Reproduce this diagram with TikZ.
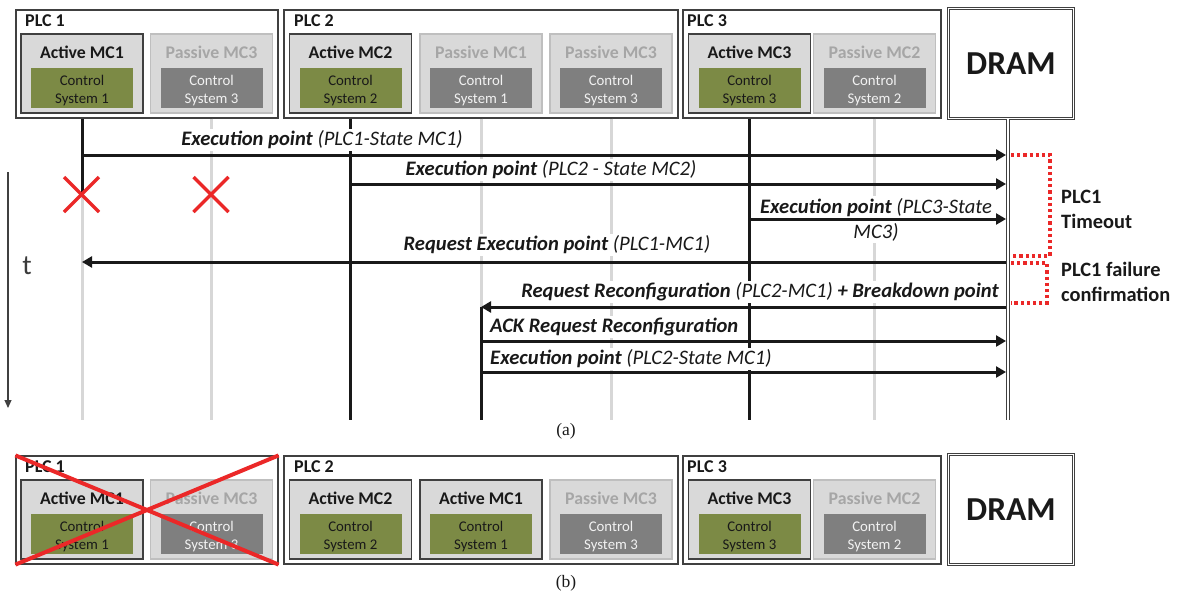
\documentclass[tikz,border=0pt]{standalone}
\usepackage{fontspec}
\setmainfont{Carlito}
\newfontfamily\capfont{Liberation Serif}
\usetikzlibrary{arrows.meta}
\definecolor{boxgrey}{RGB}{217,217,217}
\definecolor{pborder}{RGB}{191,191,191}
\definecolor{ptext}{RGB}{166,166,166}
\definecolor{olivebox}{RGB}{124,138,69}
\definecolor{darkgrey}{RGB}{127,127,127}
\definecolor{ink}{RGB}{25,25,25}
\definecolor{frame}{RGB}{64,64,64}
\definecolor{xred}{RGB}{235,40,40}
\definecolor{lifegrey}{RGB}{215,215,215}
\newcommand{\myfs}[2]{\fontsize{#1}{#2}\selectfont}
\newcommand{\mcmod}[6]{%
  \node[#4box] (#1) at (#2,#3+39.5) {};
  \node[#4title] (#1t) at (#2,#3+18.5) {#5};
  \node[#4inner] (#1i) at (#2,#3+54) {};
  \node[#4intext] (#1s) at (#2,#3+57) {Control\\System #6};
}
\tikzset{
  plcbox/.style={draw=frame, line width=1.2pt, fill=white, inner sep=0pt, minimum height=108pt},
  plclabel/.style={font=\bfseries\myfs{18}{20}, text=ink, anchor=west, inner sep=0pt},
  activebox/.style={draw=frame, line width=1.3pt, fill=boxgrey, minimum width=122pt, minimum height=79pt, inner sep=0pt},
  passivebox/.style={draw=pborder, line width=1.3pt, fill=boxgrey, minimum width=122pt, minimum height=79pt, inner sep=0pt},
  activetitle/.style={font=\bfseries\myfs{17.8}{20}, text=ink, inner sep=0pt},
  passivetitle/.style={font=\bfseries\myfs{17.8}{20}, text=ptext, inner sep=0pt},
  activeinner/.style={fill=olivebox, minimum width=102pt, minimum height=40pt, inner sep=0pt},
  passiveinner/.style={fill=darkgrey, minimum width=102pt, minimum height=40pt, inner sep=0pt},
  activeintext/.style={text=ink, inner sep=0pt, align=center, font=\myfs{14.8}{18}},
  passiveintext/.style={text=white!95!black, inner sep=0pt, align=center, font=\myfs{14.8}{18}},
  dramstyle/.style={draw=frame, double=white, double distance=1.6pt, line width=0.9pt, minimum width=125pt, minimum height=110pt, inner sep=0pt, font=\bfseries\myfs{33.5}{38}, text=ink},
  activeline/.style={draw=ink, line width=3pt},
  passiveline/.style={draw=lifegrey, line width=3pt},
  dramline/.style={draw=frame, double=white, double distance=2pt, line width=1pt},
  msg/.style={draw=ink, line width=3pt, -{Triangle[length=10pt,width=11pt]}},
  msglabel/.style={fill=white, inner sep=2pt, text=ink, font=\myfs{20.6}{25}},
  redx/.style={draw=xred, line width=3.5pt},
  bigx/.style={draw=xred, line width=4pt},
  reddots/.style={draw=xred, line width=3.2pt, dash pattern=on 3.2pt off 3pt},
  sidelabel/.style={font=\bfseries\myfs{20.4}{24.5}, text=ink, anchor=west, align=left, inner sep=0pt},
  timeaxis/.style={draw=frame, line width=1.2pt, -{Triangle[length=8pt,width=7pt]}},
  caption/.style={font=\capfont\myfs{17.5}{19}, text=ink, inner sep=0pt},
}
\begin{document}
\begin{tikzpicture}[x=1pt,y=-1pt]
\useasboundingbox (0,0) rectangle (1181,597);
\fill[white] (0,0) rectangle (1181,597);

% ---------- (a) top row ----------
\node[plcbox, minimum width=262pt] (plc1) at (147,64) {};
\node[plcbox, minimum width=394pt] (plc2) at (481,64) {};
\node[plcbox, minimum width=258pt] (plc3) at (812,64) {};
\node[plclabel] (plc1l) at (25,20.5) {PLC 1};
\node[plclabel] (plc2l) at (294,20.5) {PLC 2};
\node[plclabel] (plc3l) at (687,20.5) {PLC 3};
\node[dramstyle] (dram) at (1011,63.5) {DRAM};

\mcmod{a1}{82}{34}{active}{Active MC1}{1}
\mcmod{p13}{211.5}{34}{passive}{Passive MC3}{3}
\mcmod{a2}{350.5}{34}{active}{Active MC2}{2}
\mcmod{p21}{481}{34}{passive}{Passive MC1}{1}
\mcmod{p23}{611}{34}{passive}{Passive MC3}{3}
\mcmod{a3}{749.5}{34}{active}{Active MC3}{3}
\mcmod{p32}{874.5}{34}{passive}{Passive MC2}{2}

% lifeline coordinates
\coordinate (x1) at (82,195);
\coordinate (x2) at (211.5,195);
\coordinate (b1) at (82,420);
\coordinate (b2) at (211.5,420);
\coordinate (b3) at (350.5,420);
\coordinate (r4) at (481,307);
\coordinate (b4) at (481,420);
\coordinate (b5) at (611,420);
\coordinate (b6) at (749.5,420);
\coordinate (b7) at (874.5,420);
\coordinate (b8) at (1008,420);

% lifelines
\draw[passiveline] (x1) -- (b1);
\draw[activeline] (a1 |- plc1.south) -- (x1);
\draw[passiveline] (p13 |- plc1.south) -- (b2);
\draw[activeline] (a2 |- plc2.south) -- (b3);
\draw[passiveline] (p21 |- plc2.south) -- (r4);
\draw[activeline] (r4) -- (b4);
\draw[passiveline] (p23 |- plc2.south) -- (b5);
\draw[activeline] (a3 |- plc3.south) -- (b6);
\draw[passiveline] (p32 |- plc3.south) -- (b7);
\draw[dramline] (b8 |- dram.south) -- (b8);

% message labels
\node[msglabel] (l1) at (322,140) {{\bfseries\itshape Execution point} {\itshape (PLC1-State MC1)}};
\node[msglabel] (l2) at (551,170) {{\bfseries\itshape Execution point} {\itshape (PLC2 - State MC2)}};
\node[msglabel, align=center] (l3) at (876,219.5) {{\bfseries\itshape Execution point} {\itshape (PLC3-State}\\{\itshape MC3)}};
\node[msglabel] (l4) at (557,245) {{\bfseries\itshape Request Execution point} {\itshape (PLC1-MC1)}};
\node[msglabel] (l5) at (760,292) {{\bfseries\itshape Request Reconfiguration} {\itshape (PLC2-MC1)} {\bfseries\itshape + Breakdown point}};
\node[msglabel, anchor=west] (l6) at (488,327) {{\bfseries\itshape ACK Request Reconfiguration}};
\node[msglabel, anchor=west] (l7) at (488,359) {{\bfseries\itshape Execution point} {\itshape (PLC2-State MC1)}};

% message coordinates
\coordinate (m1s) at (82,155);   \coordinate (m1e) at (1006,155);
\coordinate (m2s) at (350.5,184); \coordinate (m2e) at (1006,184);
\coordinate (m3s) at (749.5,219); \coordinate (m3e) at (1006,219);
\coordinate (m4s) at (1006,262); \coordinate (m4e) at (82,262);
\coordinate (m5s) at (1006,307); \coordinate (m5e) at (481,307);
\coordinate (m6s) at (481,341);  \coordinate (m6e) at (1006,341);
\coordinate (m7s) at (481,372);  \coordinate (m7e) at (1006,372);

\draw[msg] (m1s) -- (m1e);
\draw[msg] (m2s) -- (m2e);
\draw[msg] (m3s) -- (m3e);
\draw[msg] (m4s) -- (m4e);
\draw[msg] (m5s) -- (m5e);
\draw[msg] (m6s) -- (m6e);
\draw[msg] (m7s) -- (m7e);

% failure marks
\draw[redx] ([shift={(-18,-18)}]x1) -- ([shift={(17,17)}]x1);
\draw[redx] ([shift={(17,-18)}]x1) -- ([shift={(-18,17)}]x1);
\draw[redx] ([shift={(-18,-18)}]x2) -- ([shift={(17,17)}]x2);
\draw[redx] ([shift={(17,-18)}]x2) -- ([shift={(-18,17)}]x2);

% red dotted brackets
\coordinate (k1a) at (1011,155); \coordinate (k1b) at (1050,155);
\coordinate (k1c) at (1050,256); \coordinate (k1d) at (1011,256);
\coordinate (k2a) at (1011,263); \coordinate (k2b) at (1047,263);
\coordinate (k2c) at (1047,303); \coordinate (k2d) at (1011,303);
\draw[reddots] (k1a) -- (k1b) -- (k1c) -- (k1d);
\draw[reddots] (k2a) -- (k2b) -- (k2c) -- (k2d);
\node[sidelabel] (tout) at (1061,209.5) {PLC1\\Timeout};
\node[sidelabel] (fconf) at (1061,282) {PLC1 failure\\confirmation};

% time axis
\coordinate (ta) at (8,172);
\coordinate (tb) at (8,408);
\draw[timeaxis] (ta) -- (tb);
\node[font=\myfs{28}{30}, text=ink!85!white, inner sep=0pt] (tl) at (27,266) {t};

\node[caption] (capa) at (566,431) {(a)};

% ---------- (b) bottom row ----------
\node[plcbox, minimum width=262pt] (bplc1) at (147,510) {};
\node[plcbox, minimum width=394pt] (bplc2) at (481,510) {};
\node[plcbox, minimum width=258pt] (bplc3) at (812,510) {};
\node[plclabel] (bplc1l) at (25,466.5) {PLC 1};
\node[plclabel] (bplc2l) at (294,466.5) {PLC 2};
\node[plclabel] (bplc3l) at (687,466.5) {PLC 3};
\node[dramstyle] (bdram) at (1011,509.5) {DRAM};

\mcmod{ba1}{82}{480}{active}{Active MC1}{1}
\mcmod{bp13}{211.5}{480}{passive}{Passive MC3}{3}
\mcmod{ba2}{350.5}{480}{active}{Active MC2}{2}
\mcmod{ba21}{481}{480}{active}{Active MC1}{1}
\mcmod{bp23}{611}{480}{passive}{Passive MC3}{3}
\mcmod{ba3}{749.5}{480}{active}{Active MC3}{3}
\mcmod{bp32}{874.5}{480}{passive}{Passive MC2}{2}

\draw[bigx] (bplc1.north west) -- (bplc1.south east);
\draw[bigx] (bplc1.north east) -- (bplc1.south west);

\node[caption] (capb) at (566,583) {(b)};
\end{tikzpicture}
\end{document}
